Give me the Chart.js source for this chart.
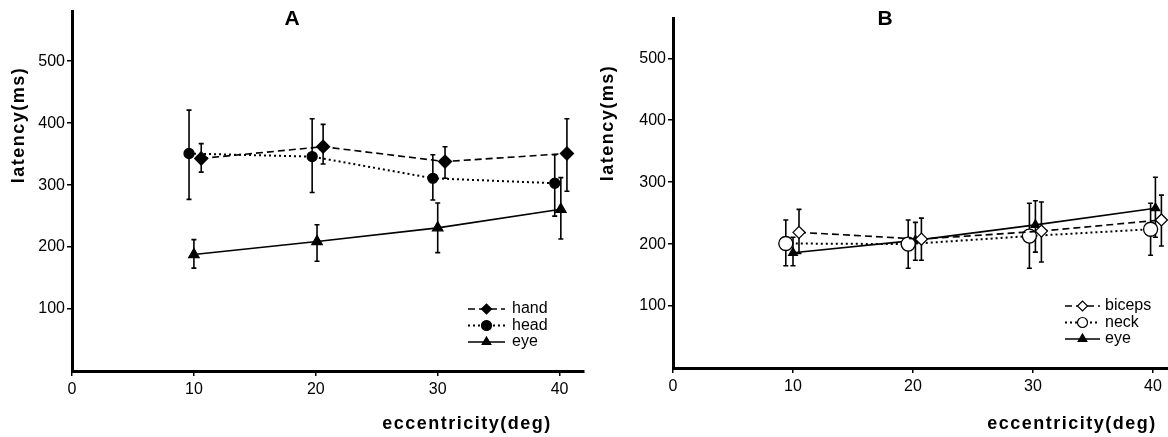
<!DOCTYPE html>
<html>
<head>
<meta charset="utf-8">
<script src="https://cdn.jsdelivr.net/npm/chart.js@4"></script>
<style>
  html, body { margin: 0; padding: 0; background: #fff; overflow: hidden; }
  body { width: 1168px; height: 437px; position: relative; }
  .panel { position: absolute; top: 0; }
  #wrapA { left: 0; }
  #wrapB { left: 600px; }
</style>
</head>
<body>
<div class="panel" id="wrapA"><canvas id="chartA" width="600" height="437"></canvas></div>
<div class="panel" id="wrapB"><canvas id="chartB" width="600" height="437"></canvas></div>
<script>
// tick labels
const xTicks = [0, 10, 20, 30, 40];
const yTicks = [100, 200, 300, 400, 500];

// panel A (x = eccentricity, slightly offset per series as in the figure)
const handX  = [10.6, 20.6, 30.6, 40.6];
const handY  = [343, 362, 338, 351];
const handLo = [321, 334, 311, 290];
const handHi = [367, 398, 362, 407];

const headX  = [9.6, 19.7, 29.6, 39.6];
const headY  = [351, 346, 311, 303];
const headLo = [277, 288, 276, 250];
const headHi = [421, 407, 349, 349];

const eyeAX  = [10.0, 20.1, 30.0, 40.1];
const eyeAY  = [188, 209, 231, 261];
const eyeALo = [166, 177, 191, 213];
const eyeAHi = [212, 236, 271, 312];

// panel B
const bicepsX  = [10.5, 20.7, 30.7, 40.7];
const bicepsY  = [219, 208, 221, 239];
const bicepsLo = [185, 174, 171, 197];
const bicepsHi = [256, 242, 268, 279];

const neckX  = [9.4, 19.6, 29.7, 39.8];
const neckY  = [201, 200, 213, 224];
const neckLo = [165, 161, 161, 182];
const neckHi = [239, 239, 266, 266];

const eyeBX  = [10.0, 20.2, 30.2, 40.2];
const eyeBY  = [186, 206, 231, 258];
const eyeBLo = [165, 174, 187, 211];
const eyeBHi = [211, 235, 270, 308];

const FONT = "'Liberation Sans', Arial, Helvetica, sans-serif";

function pts(xs, ys, lo, hi) {
    return xs.map((x, i) => ({ x: x, y: ys[i], lo: lo[i], hi: hi[i] }));
}

function series(label, data, dash, lw, style, fill, r) {
    return {
        label: label,
        data: data,
        showLine: true,
        borderColor: "#000",
        borderWidth: lw,
        borderDash: dash,
        tension: 0,
        pointStyle: style,
        pointRadius: r,
        pointBackgroundColor: fill,
        pointBorderColor: "#000",
        pointBorderWidth: 1.3
    };
}

// vertical error bars with small caps
const errorBars = {
    id: "errorBars",
    beforeDatasetsDraw(chart) {
        const ctx = chart.ctx, xs = chart.scales.x, ys = chart.scales.y;
        ctx.save();
        ctx.strokeStyle = "#000";
        ctx.lineWidth = 1.6;
        chart.data.datasets.forEach(ds => {
            ds.data.forEach(p => {
                const x = xs.getPixelForValue(p.x);
                const y1 = ys.getPixelForValue(p.lo), y2 = ys.getPixelForValue(p.hi);
                ctx.beginPath();
                ctx.moveTo(x, y1); ctx.lineTo(x, y2);
                ctx.moveTo(x - 2.5, y1); ctx.lineTo(x + 2.5, y1);
                ctx.moveTo(x - 2.5, y2); ctx.lineTo(x + 2.5, y2);
                ctx.stroke();
            });
        });
        ctx.restore();
    }
};

// legend drawn as line + marker, like the figure
function lineLegend(lg) {
    return {
        id: "lineLegend",
        afterDraw(chart) {
            const ctx = chart.ctx;
            ctx.save();
            ctx.font = "16px " + FONT;
            ctx.textBaseline = "middle";
            chart.data.datasets.forEach((ds, i) => {
                const y = lg.y + i * lg.gap;
                ctx.strokeStyle = "#000";
                ctx.lineWidth = ds.borderWidth;
                ctx.setLineDash(ds.borderDash || []);
                ctx.beginPath();
                ctx.moveTo(lg.x0, y); ctx.lineTo(lg.x1, y);
                ctx.stroke();
                ctx.setLineDash([]);
                ctx.fillStyle = ds.pointBackgroundColor;
                ctx.lineWidth = 1.2;
                Chart.helpers.drawPoint(ctx, { pointStyle: ds.pointStyle, radius: lg.r, rotation: 0, borderWidth: 1.2 },
                    (lg.x0 + lg.x1) / 2, y);
                ctx.fillStyle = "#000";
                ctx.fillText(ds.label, lg.tx, y);
            });
            ctx.restore();
        }
    };
}

// panel letter and axis titles
function texts(items) {
    return {
        id: "texts",
        afterDraw(chart) {
            const ctx = chart.ctx;
            items.forEach(t => {
                ctx.save();
                ctx.font = t.font;
                ctx.fillStyle = "#000";
                ctx.textAlign = "center";
                ctx.textBaseline = "middle";
                if ("letterSpacing" in ctx) ctx.letterSpacing = (t.sp || 0) + "px";
                ctx.translate(t.x, t.y);
                if (t.rot) ctx.rotate(t.rot);
                ctx.fillText(t.text, 0, 0);
                ctx.restore();
            });
        }
    };
}

function axis(ticks, fit, pad) {
    return {
        type: "linear",
        afterBuildTicks: s => { s.ticks = ticks.map(v => ({ value: v })); },
        afterFit: fit,
        grid: { display: true, drawOnChartArea: false, drawTicks: true, tickLength: 5, color: "#000", lineWidth: 1.5 },
        border: { display: true, color: "#000", width: 3 },
        ticks: { color: "#000", font: { family: FONT, size: 16 }, padding: pad, maxRotation: 0, autoSkip: false }
    };
}

function build(id, datasets, cfg) {
    const x = axis(xTicks, s => { s.height = cfg.xH; }, 4);
    x.min = 0; x.max = 42;
    const y = axis(yTicks, s => { s.width = cfg.yW; }, 2);
    y.min = 0; y.max = cfg.yMax;
    return new Chart(document.getElementById(id), {
        type: "scatter",
        data: { datasets: datasets },
        options: {
            responsive: false,
            animation: false,
            layout: { padding: { top: cfg.top, right: cfg.right, left: 0, bottom: 0 } },
            plugins: { legend: { display: false }, tooltip: { enabled: false } },
            scales: { x: x, y: y }
        },
        plugins: [errorBars, lineLegend(cfg.legend), texts(cfg.texts)]
    });
}

build("chartA", [
    series("hand", pts(handX, handY, handLo, handHi), [7, 4], 1.6, "rectRot", "#000", 6.5),
    series("head", pts(headX, headY, headLo, headHi), [2, 3], 2, "circle", "#000", 5),
    series("eye", pts(eyeAX, eyeAY, eyeALo, eyeAHi), [], 1.6, "triangle", "#000", 6)
], {
    xH: 66, yW: 72, yMax: 580, top: 9, right: 16,
    legend: { x0: 468, x1: 505, tx: 512, y: 309, gap: 16.5, r: 5 },
    texts: [
        { text: "A", x: 292, y: 19, font: "bold 21px " + FONT },
        { text: "latency(ms)", x: 19, y: 125, rot: -Math.PI / 2, font: "bold 18px " + FONT, sp: 1.5 },
        { text: "eccentricity(deg)", x: 467, y: 424, font: "bold 18px " + FONT, sp: 1.5 }
    ]
});

build("chartB", [
    series("biceps", pts(bicepsX, bicepsY, bicepsLo, bicepsHi), [7, 4], 1.6, "rectRot", "#fff", 6),
    series("neck", pts(neckX, neckY, neckLo, neckHi), [2, 3], 2, "circle", "#fff", 7),
    series("eye", pts(eyeBX, eyeBY, eyeBLo, eyeBHi), [], 1.6, "triangle", "#000", 5)
], {
    xH: 69, yW: 73, yMax: 565, top: 18, right: 23,
    legend: { x0: 465, x1: 500, tx: 505, y: 306, gap: 16.5, r: 5 },
    texts: [
        { text: "B", x: 285, y: 19, font: "bold 21px " + FONT },
        { text: "latency(ms)", x: 8, y: 123, rot: -Math.PI / 2, font: "bold 18px " + FONT, sp: 1.5 },
        { text: "eccentricity(deg)", x: 472, y: 424, font: "bold 18px " + FONT, sp: 1.5 }
    ]
});
</script>
</body>
</html>
